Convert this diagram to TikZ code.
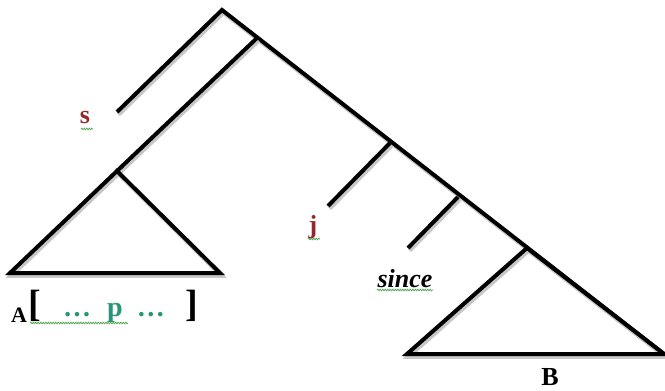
\documentclass[tikz,border=0pt]{standalone}
\usepackage{fontspec}
\setmainfont{Liberation Serif}
\usetikzlibrary{decorations.pathmorphing}
\definecolor{wordred}{RGB}{150,40,40}
\definecolor{wordgreen}{RGB}{40,150,118}
\definecolor{spellgreen}{RGB}{90,170,90}
\tikzset{
  branch/.style={line width=4pt, line join=miter,
    preaction={draw, black!22, line width=4.5pt, transform canvas={xshift=1.5pt, yshift=-2.5pt}}},
  lbl/.style={anchor=base, inner sep=0pt, font=\fontsize{26}{30}\selectfont\bfseries},
  wavy/.style={spellgreen, line width=0.8pt, decorate,
    decoration={snake, segment length=2.5pt, amplitude=0.8pt}}
}
\begin{document}
\begin{tikzpicture}[x=1pt, y=-1pt]
\useasboundingbox (0,0) rectangle (665,391);
\coordinate (R) at (222,10);
\coordinate (Rb) at (664,354);
\coordinate (M) at (257,38);
\coordinate (S) at (117,112);

\coordinate (T) at (117,171);
\coordinate (T1) at (10,273);
\coordinate (T2) at (220,273);

\coordinate (J) at (390,143);
\coordinate (Je) at (328,206);
\coordinate (C) at (458,197);
\coordinate (Ce) at (408,248);

\coordinate (U) at (527,248);
\coordinate (U1) at (407,354);

% spine and branches
\draw[branch] (S)--(R)--(Rb);
\draw[branch] (M)--(T);
\draw[branch] (J)--(Je);
\draw[branch] (C)--(Ce);

% triangles
\draw[branch] (T1)--(T)--(T2)--cycle;
\draw[branch] (Rb)--(U)--(U1)--cycle;

\node[lbl, wordred] (s) at (85,123) {s};
\node[lbl, wordred] (j) at (313,233) {j};
\node[lbl, font=\fontsize{26}{30}\selectfont\bfseries\itshape] (since) at (405,287) {since};
\node[lbl] (B) at (550,385) {B};

\node[lbl, font=\fontsize{22}{26}\selectfont\bfseries] (A) at (19,322) {A};
\node[lbl, font=\fontsize{38}{40}\selectfont\bfseries] (open) at (35,316) {[};
\node[lbl, wordgreen, font=\fontsize{28}{32}\selectfont\bfseries] (dots) at (114,316) {…\hspace{16pt}p\hspace{14pt}…};
\node[lbl, font=\fontsize{38}{40}\selectfont\bfseries] (close) at (192,316) {]};

% spelling marks
\draw[wavy] (81,129) -- (93,129);
\draw[wavy] (308,239) -- (320,239);
\draw[wavy] (377,290) -- (433,290);
\draw[wavy] (30,323) -- (128,323);
\end{tikzpicture}
\end{document}
